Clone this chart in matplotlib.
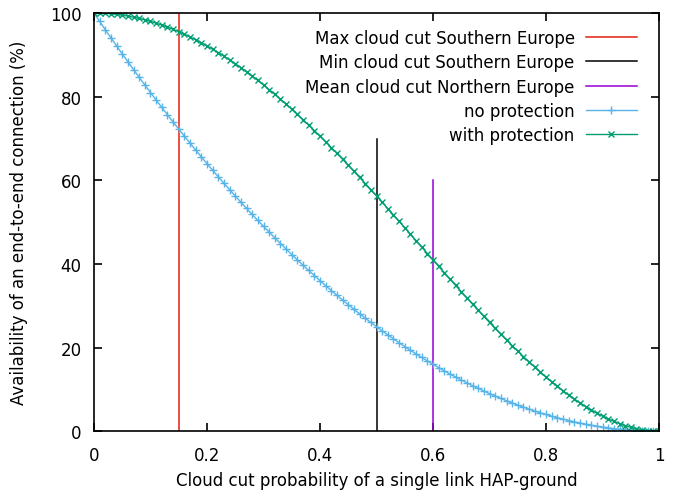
import matplotlib
matplotlib.use("Agg")
import matplotlib.pyplot as plt

# cloud cut probability, step 0.01
p = [i / 100 for i in range(101)]

no_protection = [
    100.00, 98.01, 96.04, 94.09, 92.16, 90.25, 88.36, 86.49, 84.64, 82.81,
    81.00, 79.21, 77.44, 75.69, 73.96, 72.25, 70.56, 68.89, 67.24, 65.61,
    64.00, 62.41, 60.84, 59.29, 57.76, 56.25, 54.76, 53.29, 51.84, 50.41,
    49.00, 47.61, 46.24, 44.89, 43.56, 42.25, 40.96, 39.69, 38.44, 37.21,
    36.00, 34.81, 33.64, 32.49, 31.36, 30.25, 29.16, 28.09, 27.04, 26.01,
    25.00, 24.01, 23.04, 22.09, 21.16, 20.25, 19.36, 18.49, 17.64, 16.81,
    16.00, 15.21, 14.44, 13.69, 12.96, 12.25, 11.56, 10.89, 10.24, 9.61,
    9.00, 8.41, 7.84, 7.29, 6.76, 6.25, 5.76, 5.29, 4.84, 4.41,
    4.00, 3.61, 3.24, 2.89, 2.56, 2.25, 1.96, 1.69, 1.44, 1.21,
    1.00, 0.81, 0.64, 0.49, 0.36, 0.25, 0.16, 0.09, 0.04, 0.01,
    0.00,
]

with_protection = [
    100.00, 99.98, 99.92, 99.82, 99.68, 99.50, 99.28, 99.02, 98.72, 98.39,
    98.01, 97.59, 97.14, 96.65, 96.12, 95.55, 94.95, 94.30, 93.62, 92.91,
    92.16, 91.37, 90.55, 89.70, 88.81, 87.89, 86.94, 85.95, 84.93, 83.89,
    82.81, 81.70, 80.57, 79.41, 78.22, 77.00, 75.76, 74.49, 73.20, 71.89,
    70.56, 69.21, 67.83, 66.44, 65.03, 63.60, 62.16, 60.70, 59.23, 57.74,
    56.25, 54.75, 53.23, 51.71, 50.18, 48.65, 47.11, 45.58, 44.04, 42.50,
    40.96, 39.43, 37.90, 36.37, 34.86, 33.35, 31.86, 30.37, 28.90, 27.45,
    26.01, 24.59, 23.19, 21.82, 20.47, 19.14, 17.84, 16.57, 15.34, 14.13,
    12.96, 11.83, 10.73, 9.68, 8.67, 7.70, 6.78, 5.91, 5.09, 4.32,
    3.61, 2.95, 2.36, 1.83, 1.35, 0.95, 0.61, 0.35, 0.16, 0.04,
    0.00,
]

# vertical reference lines: (label, x, height)
ref_labels = ["Max cloud cut Southern Europe", "Min cloud cut Southern Europe",
              "Mean cloud cut Northern Europe"]
ref_x = [0.15, 0.5, 0.6]
ref_top = [100, 70, 60]
ref_colors = ["#e51e10", "#000000", "#9400d3"]

xticks = [0, 0.2, 0.4, 0.6, 0.8, 1]
xticklabels = ["0", "0.2", "0.4", "0.6", "0.8", "1"]
yticks = [0, 20, 40, 60, 80, 100]

plt.rcParams["font.family"] = ["DejaVu Sans"]
plt.rcParams["font.size"] = 12

fig = plt.figure(figsize=(6.76, 5.02), dpi=100)
ax = fig.add_axes([0.139, 0.139, 0.836, 0.833])

for lab, x, top, c in zip(ref_labels, ref_x, ref_top, ref_colors):
    ax.plot([x, x], [0, top], color=c, linewidth=1.1, label=lab)

ax.plot(p, no_protection, color="#56b4e9", linewidth=1.0, marker="+",
        markersize=6, markeredgewidth=1.0, label="no protection")
ax.plot(p, with_protection, color="#009e73", linewidth=1.0, marker="x",
        markersize=5, markeredgewidth=1.0, label="with protection")

ax.set_xlim(0, 1)
ax.set_ylim(0, 100)
ax.set_xticks(xticks)
ax.set_xticklabels(xticklabels)
ax.set_yticks(yticks)
ax.tick_params(direction="in", top=True, right=True, length=6, width=1.2)
ax.tick_params(axis="x", pad=11)
ax.tick_params(axis="y", pad=9)
for s in ax.spines.values():
    s.set_linewidth(1.2)

ax.set_xlabel("Cloud cut probability of a single link HAP-ground", labelpad=5)
ax.set_ylabel("Availability of an end-to-end connection (%)", labelpad=16)

ax.legend(loc="upper right", bbox_to_anchor=(0.973, 0.978), frameon=False,
          markerfirst=False, handlelength=3.1, borderaxespad=0,
          labelspacing=0.38, handletextpad=0.65)

fig.savefig("out.png", dpi=100)
